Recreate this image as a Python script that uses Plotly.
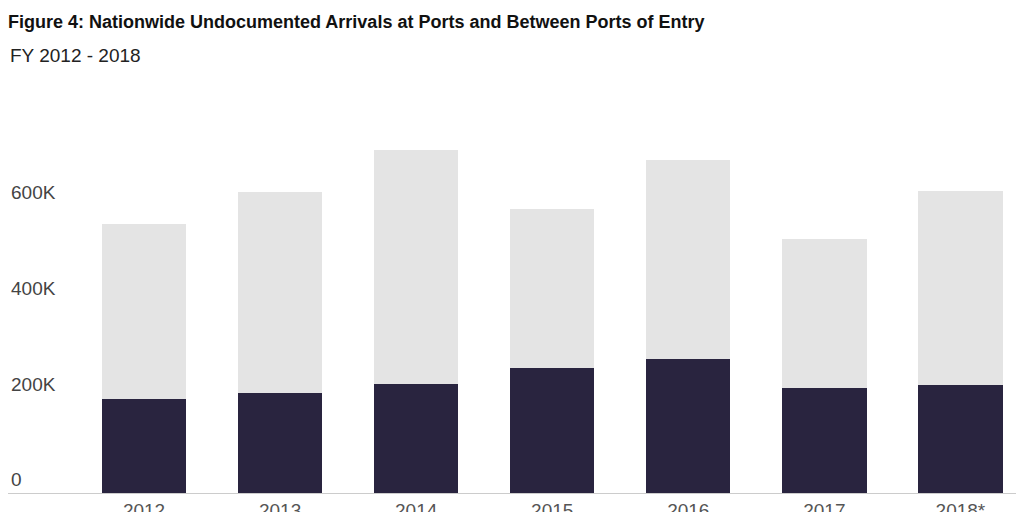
import plotly.graph_objects as go

years = ["2012", "2013", "2014", "2015", "2016", "2017", "2018*"]
at_ports = [196, 208, 227, 260, 279, 219, 225]
totals = [562, 629, 717, 594, 696, 531, 631]
between_ports = [t - a for t, a in zip(totals, at_ports)]

fig = go.Figure()
fig.add_bar(x=years, y=at_ports, marker_color="#29243f", marker_line_width=0, name="At ports")
fig.add_bar(x=years, y=between_ports, marker_color="#e4e4e4", marker_line_width=0, name="Between ports")
fig.update_layout(
    barmode="stack", bargap=0.38, width=1024, height=512,
    margin=dict(l=0, r=9, t=98, b=27, autoexpand=False), showlegend=False,
    plot_bgcolor="white", paper_bgcolor="white",
    font=dict(family="Liberation Sans Narrow, Liberation Sans, Arial", color="#555", size=19),
)
fig.update_xaxes(range=[-1.0, 6.46], showline=True, linecolor="#ccc", linewidth=1, ticks="",
                 tickfont=dict(size=19))
fig.update_yaxes(range=[0, 808], tickvals=[0, 200, 400, 600, 800],
                 ticktext=["0", "200K", "400K", "600K", "800K"], showgrid=False, zeroline=False,
                 ticklabelposition="inside top", tickfont=dict(size=19))
fig.add_annotation(text="<b>Figure 4: Nationwide Undocumented Arrivals at Ports and Between Ports of Entry</b>",
                   xref="paper", yref="paper", x=0, xanchor="left", y=1, yshift=72, yanchor="bottom",
                   showarrow=False, font=dict(size=18, color="#111"), xshift=-2)
fig.add_annotation(text="FY 2012 - 2018", xref="paper", yref="paper", x=0, xanchor="left",
                   y=1, yshift=38, yanchor="bottom", showarrow=False, font=dict(size=19, color="#222"))
fig.write_html("out.html")
